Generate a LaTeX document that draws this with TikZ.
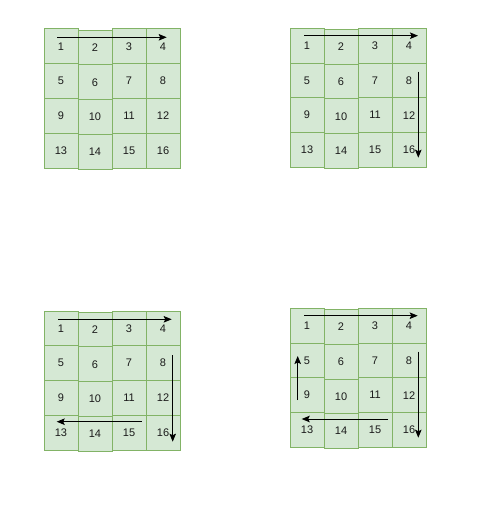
\documentclass[tikz,border=0pt]{standalone}
\usepackage{fontspec}
\setmainfont{Liberation Sans}
\usetikzlibrary{arrows.meta}
\definecolor{cellfill}{HTML}{D5E8D4}
\definecolor{cellline}{HTML}{82B366}
\definecolor{txt}{HTML}{1A1A1A}
\tikzset{
  cell/.style={draw=cellline, fill=cellfill, line width=1pt, minimum width=34pt,
    minimum height=34.75pt, anchor=north west, inner sep=0pt, outer sep=0pt,
    text=txt, font=\fontsize{11}{13}\selectfont},
  flow/.style={-{Stealth[length=8pt,width=6.5pt,inset=1.5pt]}, line width=0.9pt, black}
}
\begin{document}
\begin{tikzpicture}[x=1pt,y=-1pt]
\useasboundingbox (0,0) rectangle (483,513);
\foreach \g/\ox/\oy in {a/44/29, b/290/28.3, c/44/311, d/290/308.3} {
  \foreach \i in {0,...,3} {
    \foreach \j in {0,...,3} {
      \pgfmathtruncatemacro{\n}{\i*4+\j+1}
      \pgfmathsetmacro{\dy}{\j==1 ? 1.2 : 0}
      \node[cell] (\g\n) at (\ox+\j*34, \oy+\i*34.75+\dy) {\n};
    }
  }
}
% grid a
\coordinate (a-t0) at (57,37.3);   \coordinate (a-t1) at (166.7,37.3);
\draw[flow] (a-t0) -- (a-t1);
% grid b
\coordinate (b-t0) at (304.3,35.7); \coordinate (b-t1) at (418,35.7);
\coordinate (b-d0) at (418.3,71.7); \coordinate (b-d1) at (418.3,157.7);
\draw[flow] (b-t0) -- (b-t1);
\draw[flow] (b-d0) -- (b-d1);
% grid c
\coordinate (c-t0) at (58.3,319.3); \coordinate (c-t1) at (171.7,319.3);
\coordinate (c-d0) at (172.7,355);  \coordinate (c-d1) at (172.7,441.7);
\coordinate (c-l0) at (141.7,421.7); \coordinate (c-l1) at (56.7,421.7);
\draw[flow] (c-t0) -- (c-t1);
\draw[flow] (c-d0) -- (c-d1);
\draw[flow] (c-l0) -- (c-l1);
% grid d
\coordinate (d-t0) at (304.3,315.7); \coordinate (d-t1) at (417.7,315.7);
\coordinate (d-d0) at (418.3,351.7); \coordinate (d-d1) at (418.3,437.7);
\coordinate (d-l0) at (388.3,419);   \coordinate (d-l1) at (301.7,419);
\coordinate (d-u0) at (297.7,400);   \coordinate (d-u1) at (297.7,356);
\draw[flow] (d-t0) -- (d-t1);
\draw[flow] (d-d0) -- (d-d1);
\draw[flow] (d-l0) -- (d-l1);
\draw[flow] (d-u0) -- (d-u1);
\end{tikzpicture}
\end{document}
